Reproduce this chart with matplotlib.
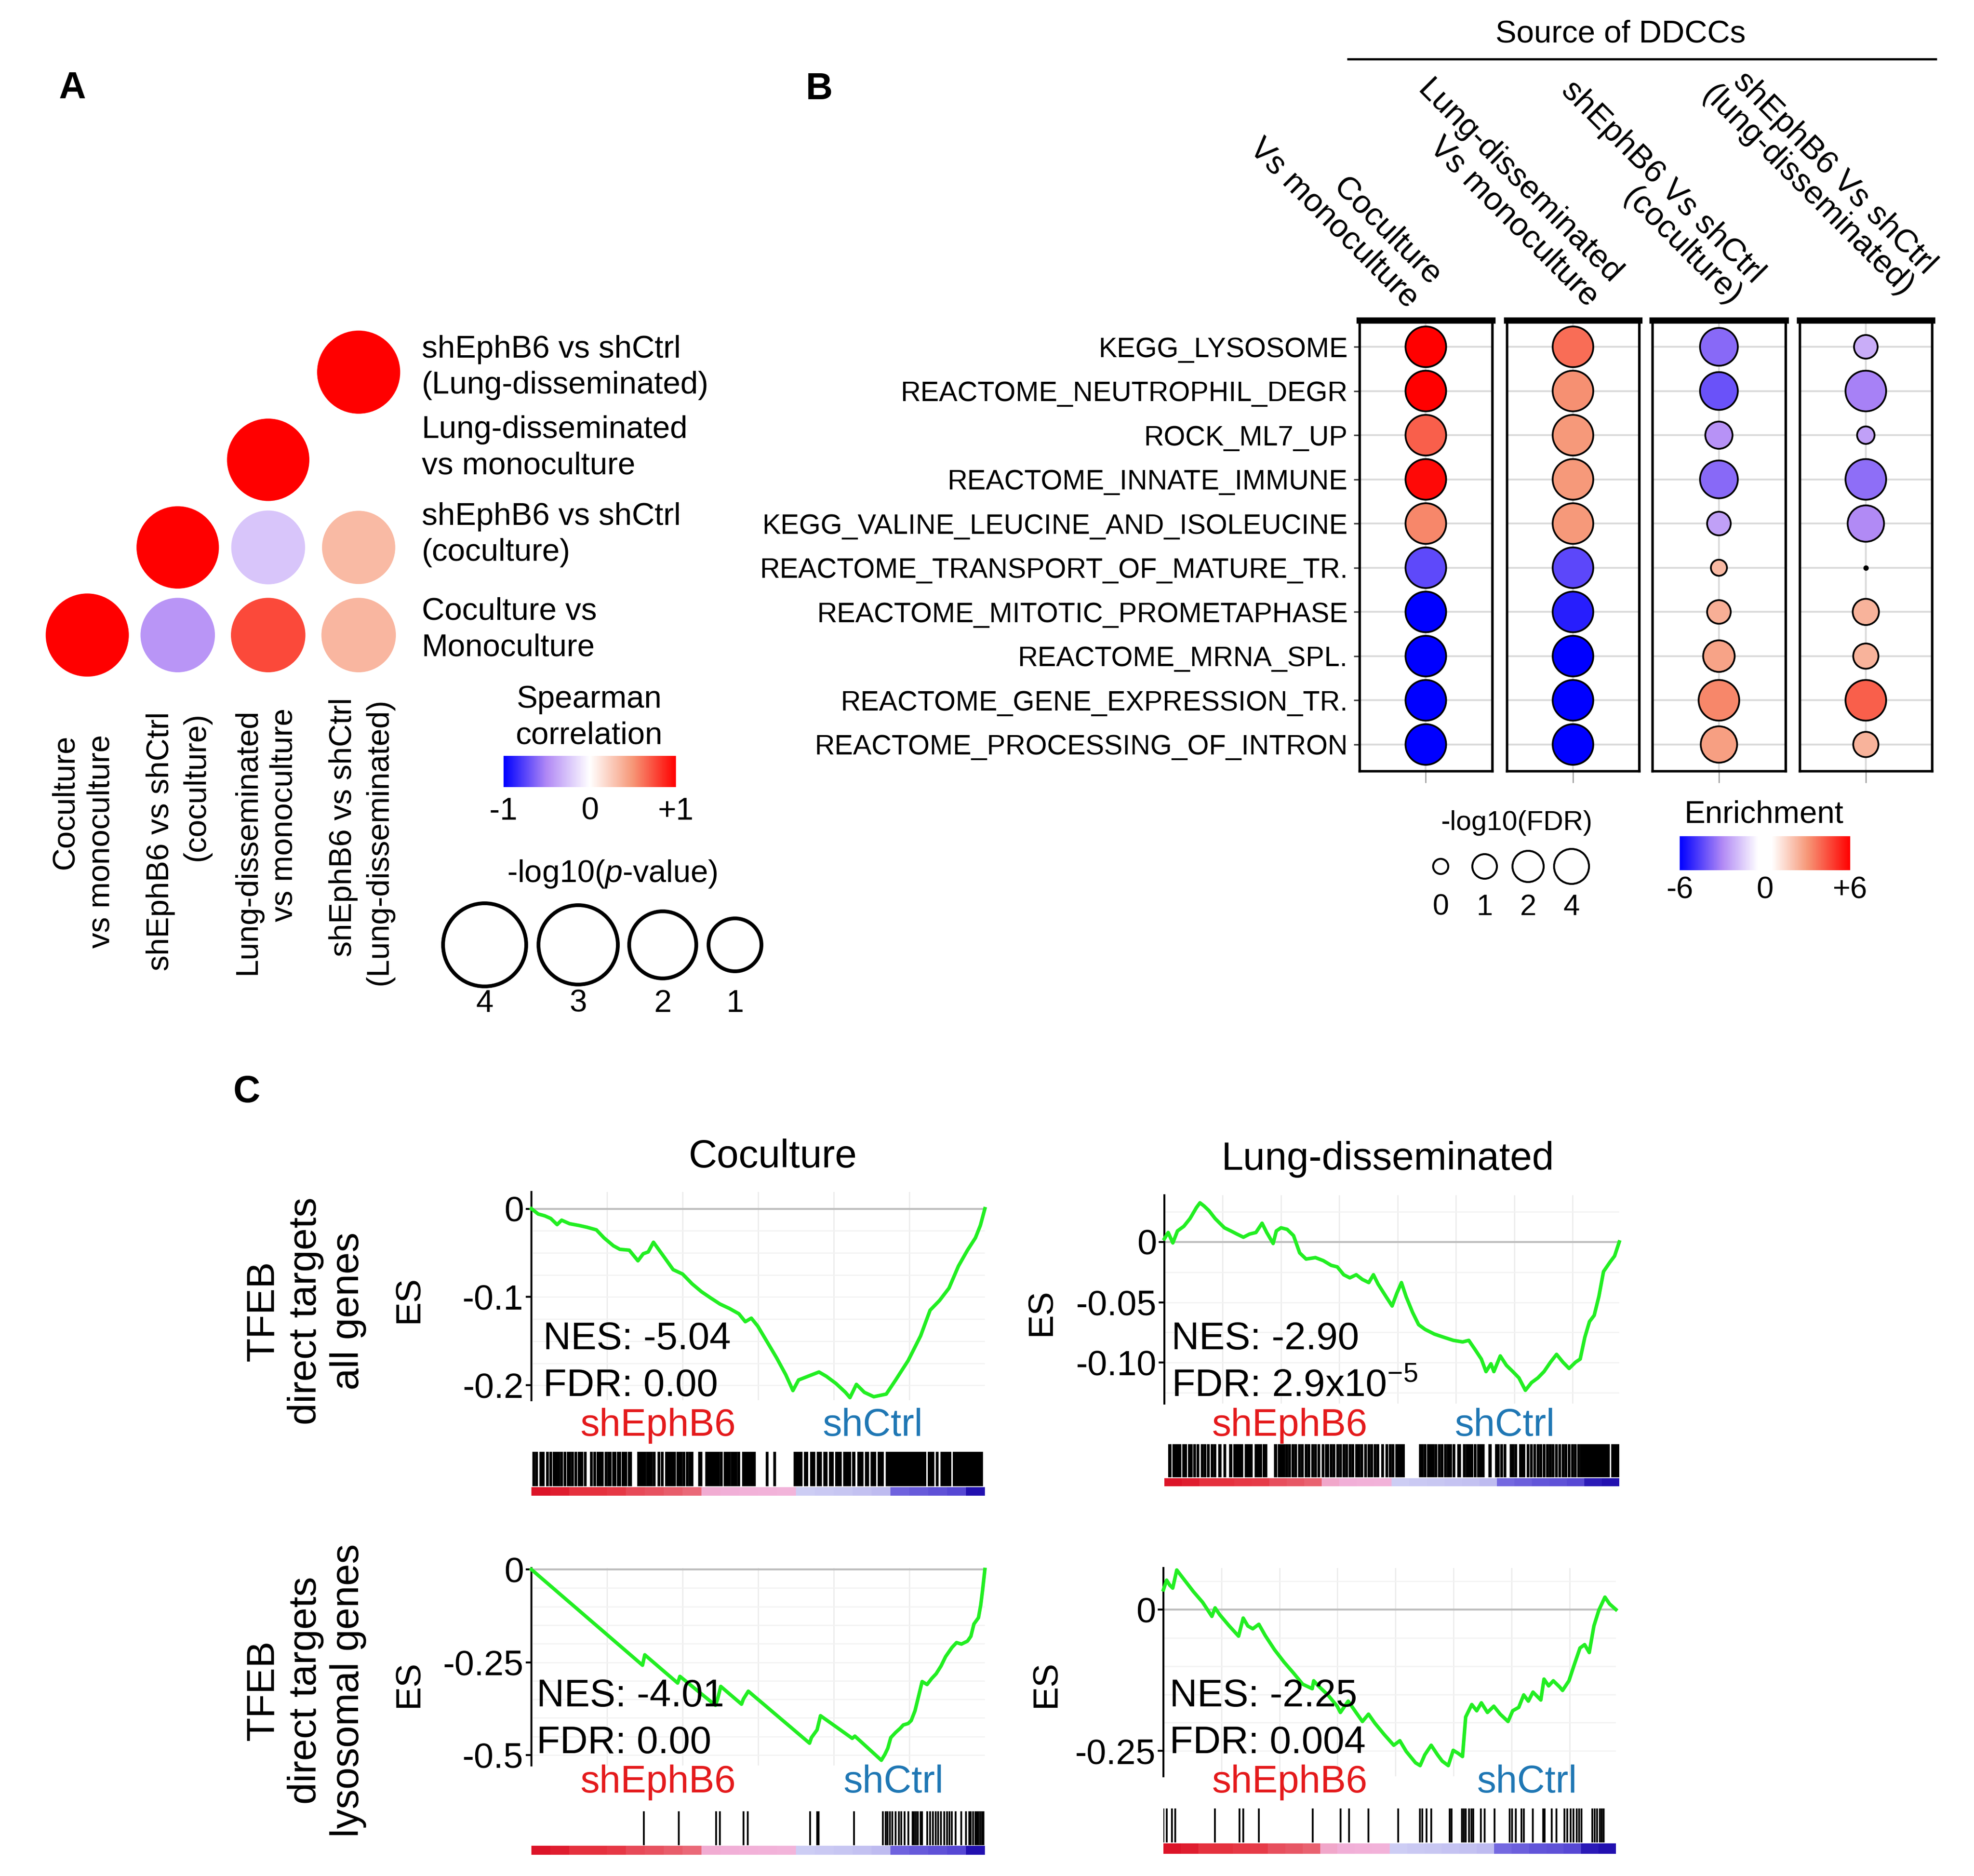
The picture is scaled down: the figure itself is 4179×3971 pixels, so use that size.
import numpy as np
import matplotlib
matplotlib.use('Agg')
import matplotlib.pyplot as plt
from matplotlib.colors import LinearSegmentedColormap, Normalize
from matplotlib.cm import ScalarMappable
from matplotlib.lines import Line2D

plt.rcParams['font.family'] = ['Liberation Sans', 'DejaVu Sans']
plt.rcParams['mathtext.fontset'] = 'custom'
plt.rcParams['mathtext.rm'] = 'Liberation Sans'
plt.rcParams['mathtext.it'] = 'Liberation Sans:italic'
plt.rcParams['axes.unicode_minus'] = False

W, H, DPI = 4179, 3971, 300

# ---------------- data: panel A (Spearman correlation matrix) ----------------
a_col_labels = ['Coculture\nvs monoculture', 'shEphB6 vs shCtrl\n(coculture)',
                'Lung-disseminated\nvs monoculture', 'shEphB6 vs shCtrl\n(Lung-disseminated)']
a_row_labels = ['Coculture vs\nMonoculture', 'shEphB6 vs shCtrl\n(coculture)',
                'Lung-disseminated\nvs monoculture', 'shEphB6 vs shCtrl\n(Lung-disseminated)']
nan = np.nan
# rows: bottom -> top, cols: left -> right
spearman = np.array([[1.0, -0.45, 0.75, 0.35],
                     [nan, 1.0, -0.25, 0.33],
                     [nan, nan, 1.0, nan],
                     [nan, nan, nan, 1.0]])
logp = np.array([[4.0, 2.6, 2.6, 2.6],
                 [nan, 3.8, 2.55, 2.5],
                 [nan, nan, 3.8, nan],
                 [nan, nan, nan, 4.0]])
logp_breaks = [4, 3, 2, 1]

# ---------------- data: panel B (pathway enrichment) ----------------
pathways = ['KEGG_LYSOSOME', 'REACTOME_NEUTROPHIL_DEGR', 'ROCK_ML7_UP', 'REACTOME_INNATE_IMMUNE',
            'KEGG_VALINE_LEUCINE_AND_ISOLEUCINE', 'REACTOME_TRANSPORT_OF_MATURE_TR.',
            'REACTOME_MITOTIC_PROMETAPHASE', 'REACTOME_MRNA_SPL.', 'REACTOME_GENE_EXPRESSION_TR.',
            'REACTOME_PROCESSING_OF_INTRON']
b_col_labels = ['Coculture\nVs monoculture', 'Lung-disseminated\nVs monoculture',
                'shEphB6 Vs shCtrl\n(coculture)', 'shEphB6 Vs shCtrl\n(lung-disseminated)']
enr_cocult = [6.0, 6.0, 4.1, 5.8, 3.3, -4.4, -6.0, -6.0, -6.0, -6.0]
enr_lung = [3.8, 3.1, 2.95, 2.95, 2.95, -4.45, -5.3, -6.0, -6.0, -6.0]
enr_sh_cocult = [-3.66, -4.2, -2.77, -3.7, -2.5, 2.2, 2.4, 2.7, 3.3, 2.8]
enr_sh_lung = [-2.25, -3.15, -2.5, -3.57, -3.0, nan, 2.3, 2.3, 4.1, 2.3]
fdr_cocult = [6.0, 6.0, 6.0, 6.0, 6.0, 6.0, 6.0, 6.0, 6.0, 6.0]
fdr_lung = [6.0, 6.0, 6.0, 6.0, 6.0, 6.0, 6.0, 6.0, 6.0, 6.0]
fdr_sh_cocult = [5.0, 5.0, 1.4, 5.0, 0.9, 0.1, 0.9, 2.2, 6.0, 4.5]
fdr_sh_lung = [0.9, 6.0, 0.25, 6.0, 4.5, nan, 1.25, 1.1, 6.0, 1.1]
fdr_breaks = [0, 1, 2, 4]

# ---------------- data: panel C (GSEA running enrichment scores) ----------------
# rank positions in thousands of genes
cocult_all_rank = [0, 0.18, 0.35, 0.51, 0.68, 0.80, 1.01, 1.26, 1.47, 1.72, 1.92, 2.17, 2.34, 2.59, 2.82,
                   2.96, 3.09, 3.23, 3.50, 3.75, 4.00, 4.25, 4.50, 4.74, 4.99, 5.24, 5.49, 5.66, 5.82,
                   5.99, 6.24, 6.49, 6.73, 6.92, 7.07, 7.31, 7.61, 7.81, 8.06, 8.31, 8.43, 8.60, 8.81,
                   9.06, 9.39, 9.64, 9.97, 10.30, 10.55, 10.80, 11.05, 11.30, 11.54, 11.75, 11.88, 12.0]
cocult_all_es = [0, -0.006, -0.008, -0.011, -0.018, -0.013, -0.017, -0.019, -0.021, -0.024, -0.033,
                 -0.042, -0.046, -0.047, -0.059, -0.051, -0.049, -0.038, -0.054, -0.069, -0.074, -0.085,
                 -0.094, -0.101, -0.108, -0.113, -0.119, -0.128, -0.124, -0.133, -0.151, -0.169, -0.188,
                 -0.206, -0.194, -0.190, -0.185, -0.190, -0.198, -0.208, -0.214, -0.199, -0.208, -0.213,
                 -0.210, -0.194, -0.172, -0.144, -0.115, -0.104, -0.090, -0.065, -0.047, -0.033, -0.019, 0]
cocult_all_hits = [0.06, 0.14, 0.25, 0.31, 0.43, 0.51, 0.60, 0.66, 0.72, 0.80, 0.89, 0.97, 1.01, 1.09,
                   1.18, 1.26, 1.30, 1.34, 1.43, 1.59, 1.68, 1.76, 1.82, 1.88, 1.97, 2.05, 2.09, 2.17,
                   2.21, 2.30, 2.34, 2.42, 2.46, 2.50, 2.59, 2.63, 2.84, 2.88, 2.92, 2.96, 3.00, 3.07,
                   3.13, 3.17, 3.25, 3.38, 3.46, 3.58, 3.62, 3.67, 3.73, 3.79, 3.87, 3.91, 3.96, 4.04,
                   4.12, 4.20, 4.25, 4.45, 4.49, 4.64, 4.70, 4.76, 4.83, 4.89, 4.95, 5.03, 5.12, 5.17,
                   5.24, 5.31, 5.37, 5.41, 5.49, 5.61, 5.66, 5.72, 5.78, 5.84, 5.90, 6.24, 6.44]
cocult_all_runs = [(6.94, 7.17), (7.21, 7.33), (7.38, 7.51), (7.55, 7.69), (7.73, 7.84), (7.88, 8.00),
                   (8.04, 8.21), (8.25, 8.46), (8.49, 8.58), (8.62, 8.79), (8.83, 8.94), (8.98, 9.12),
                   (9.16, 9.33), (9.37, 10.45), (10.49, 10.66), (10.70, 10.78), (10.82, 11.11), (11.15, 11.95)]

lung_all_rank = [0, 0.13, 0.29, 0.45, 0.67, 0.88, 1.10, 1.22, 1.36, 1.53, 1.74, 1.90, 2.06, 2.28, 2.49,
                 2.71, 2.92, 3.14, 3.35, 3.51, 3.73, 3.84, 4.00, 4.21, 4.43, 4.64, 4.86, 5.18, 5.45,
                 5.72, 5.93, 6.15, 6.36, 6.58, 6.79, 7.01, 7.17, 7.33, 7.60, 7.81, 7.97, 8.13, 8.29,
                 8.51, 8.72, 8.94, 9.26, 9.58, 9.91, 10.23, 10.44, 10.66, 10.87, 11.03, 11.20, 11.30,
                 11.52, 11.73, 11.95, 12.16, 12.38, 12.59, 12.81, 13.02, 13.24, 13.45, 13.67, 13.88,
                 14.10, 14.26, 14.42, 14.58, 14.74, 14.90, 15.06, 15.28, 15.44, 15.60]
lung_all_es = [0.0026, 0.0078, -0.0008, 0.0091, 0.0130, 0.0194, 0.0285, 0.0324, 0.0298, 0.0259,
               0.0194, 0.0155, 0.0117, 0.0091, 0.0065, 0.0039, 0.0065, 0.0078, 0.0155, 0.0078,
               -0.0013, 0.0091, 0.0117, 0.0104, 0.0052, -0.0091, -0.0142, -0.0130, -0.0155, -0.0194,
               -0.0207, -0.0272, -0.0298, -0.0272, -0.0311, -0.0337, -0.0272, -0.0350, -0.0453, -0.0531,
               -0.0427, -0.0337, -0.0453, -0.0583, -0.0686, -0.0725, -0.0764, -0.0790, -0.0816, -0.0829,
               -0.0816, -0.0894, -0.0971, -0.1075, -0.1010, -0.1075, -0.0945, -0.1023, -0.1075, -0.1127,
               -0.1230, -0.1166, -0.1127, -0.1075, -0.0997, -0.0932, -0.0997, -0.1049, -0.0997, -0.0971,
               -0.0790, -0.0660, -0.0609, -0.0453, -0.0246, -0.0168, -0.0117, 0]
lung_all_hits = [0.32, 0.40, 0.47, 0.54, 0.86, 0.93, 1.04, 1.29, 1.40, 1.50, 1.63, 1.74, 2.08, 2.41,
                 2.49, 2.58, 2.65, 3.14, 3.22, 3.30, 3.41, 3.48, 3.94, 4.02, 4.10, 4.19, 4.30, 4.41,
                 4.51, 4.64, 4.73, 4.86, 4.96, 5.09, 5.18, 5.29, 5.45, 5.55, 5.61, 5.72, 5.82, 5.95,
                 6.04, 6.15, 6.25, 6.36, 6.47, 6.60, 6.68, 6.77, 6.90, 7.01, 7.11, 7.22, 7.33, 7.49,
                 7.63, 7.74, 7.84, 8.78, 8.85, 8.94, 9.05, 9.13, 9.21, 9.32, 9.42, 9.53, 9.64, 9.74,
                 9.82, 9.93, 10.28, 10.39, 10.46, 10.55, 10.66, 10.77, 10.85, 10.93, 11.39, 11.46,
                 11.57, 11.68, 11.89, 11.95, 12.05, 12.48, 12.59, 12.70, 12.81, 12.91, 13.02, 13.13,
                 13.24, 13.34, 13.45, 13.56, 13.67, 13.77, 13.88, 13.99, 14.10, 14.20]
lung_all_runs = [(0.13, 0.24), (0.61, 0.77), (1.10, 1.20), (1.85, 1.96), (2.22, 2.33), (2.76, 3.03),
                 (3.76, 3.87), (7.92, 8.24), (10.04, 10.17), (11.11, 11.22), (12.16, 12.38),
                 (14.26, 15.28), (15.33, 15.60)]

cocult_lyso_rank = [0, 2.94, 3.00, 3.87, 3.93, 4.87, 4.93, 5.01, 5.56, 5.61, 5.74, 7.36, 7.41, 7.56,
                    7.65, 8.49, 8.56, 9.26, 9.35, 9.43, 9.51, 9.64, 9.76, 9.84, 9.97, 10.05, 10.15,
                    10.23, 10.34, 10.47, 10.59, 10.71, 10.84, 10.96, 11.13, 11.25, 11.38, 11.54,
                    11.63, 11.71, 11.83, 11.89, 11.94, 12.0]
cocult_lyso_es = [0, -0.258, -0.230, -0.306, -0.288, -0.366, -0.348, -0.315, -0.363, -0.349, -0.328,
                  -0.468, -0.453, -0.432, -0.394, -0.455, -0.449, -0.514, -0.499, -0.482, -0.453,
                  -0.439, -0.428, -0.419, -0.415, -0.407, -0.381, -0.348, -0.302, -0.310, -0.294,
                  -0.281, -0.260, -0.235, -0.210, -0.197, -0.201, -0.193, -0.180, -0.147, -0.130,
                  -0.096, -0.055, 0]
cocult_lyso_hits = [2.98, 3.90, 4.89, 4.99, 5.61, 5.72, 7.38, 7.56, 7.60, 8.54, 9.30, 9.37, 9.43, 9.49,
                    9.55, 9.64, 9.72, 9.79, 9.87, 9.97, 10.09, 10.13, 10.18, 10.23, 10.30, 10.34, 10.47,
                    10.55, 10.63, 10.70, 10.76, 10.84, 10.92, 11.00, 11.06, 11.13, 11.23, 11.38, 11.50,
                    11.59, 11.63, 11.69, 11.75, 11.79, 11.83, 11.88, 11.92, 11.96]

lung_lyso_rank = [0, 0.11, 0.22, 0.32, 0.46, 0.70, 1.03, 1.35, 1.67, 1.78, 1.94, 2.27, 2.59, 2.75, 2.91,
                  3.08, 3.29, 3.51, 3.83, 4.16, 4.48, 4.80, 5.13, 5.18, 5.34, 5.67, 5.99, 6.10, 6.37,
                  6.64, 6.86, 7.07, 7.29, 7.61, 7.94, 8.15, 8.37, 8.69, 8.85, 9.01, 9.23, 9.45, 9.61,
                  9.82, 9.99, 10.15, 10.31, 10.42, 10.63, 10.80, 10.96, 11.17, 11.39, 11.61, 11.88,
                  12.04, 12.25, 12.42, 12.58, 12.74, 13.01, 13.12, 13.28, 13.44, 13.66, 13.76, 13.98,
                  14.14, 14.36, 14.52, 14.68, 14.84, 15.01, 15.22, 15.38, 15.60]
lung_lyso_es = [0.035, 0.052, 0.043, 0.038, 0.070, 0.054, 0.032, 0.013, -0.012, 0.003, -0.009, -0.029,
                -0.047, -0.015, -0.029, -0.034, -0.026, -0.046, -0.071, -0.093, -0.112, -0.132, -0.140,
                -0.126, -0.135, -0.151, -0.171, -0.182, -0.162, -0.182, -0.198, -0.185, -0.201, -0.221,
                -0.240, -0.232, -0.251, -0.271, -0.276, -0.257, -0.240, -0.257, -0.268, -0.276, -0.249,
                -0.254, -0.260, -0.190, -0.168, -0.179, -0.165, -0.182, -0.171, -0.185, -0.198, -0.179,
                -0.173, -0.151, -0.162, -0.146, -0.160, -0.123, -0.135, -0.126, -0.137, -0.143, -0.126,
                -0.101, -0.068, -0.062, -0.076, -0.029, -0.001, 0.022, 0.010, 0]
lung_lyso_hits = [0.00, 0.11, 0.29, 0.40, 1.78, 2.62, 2.75, 3.29, 5.15, 6.10, 6.40, 7.07, 8.10, 8.85,
                  8.93, 9.07, 9.23, 9.86, 9.93, 10.29, 10.36, 10.42, 10.53, 10.61, 10.69, 10.94, 11.07,
                  11.41, 11.93, 12.02, 12.15, 12.34, 12.42, 12.74, 13.10, 13.14, 13.39, 13.55, 13.82,
                  13.93, 14.03, 14.14, 14.25, 14.33, 14.41, 14.79, 14.87, 14.95, 15.04, 15.11, 15.17]

# ranked-list metric strips (binned, scaled -1..1)
metric_cocult = [1.0, 0.95, 0.85, 0.85, 0.82, 0.72, 0.68, 0.64, 0.6, 0.32, 0.3, 0.28, 0.26, 0.24,
                 -0.2, -0.22, -0.25, -0.28, -0.32, -0.62, -0.66, -0.7, -0.75, -1.0]
metric_lung = [1.0, 0.95, 0.85, 0.85, 0.82, 0.8, 0.7, 0.66, 0.62, 0.34, 0.3, 0.28, 0.26,
               -0.2, -0.22, -0.24, -0.26, -0.28, -0.32, -0.6, -0.64, -0.68, -0.7, -0.74, -0.95, -1.0]
n_cocult = 12.0
n_lung = 15.6

# ---------------- colours ----------------
cmap_a = LinearSegmentedColormap.from_list('corr', [(0, '#0000FF'), (0.25, '#B189F5'), (0.5, '#FFFFFF'),
                                                    (0.75, '#F69777'), (1, '#FF0000')])
cmap_b = LinearSegmentedColormap.from_list('enr', [(0, '#0000FF'), (0.25, '#B189F5'), (0.46, '#FFFFFF'),
                                                   (0.54, '#FFFFFF'), (0.75, '#F69777'), (1, '#FF0000')])
cmap_strip = LinearSegmentedColormap.from_list('strip', [
    (0, '#2210B0'), (0.1, '#4C3CD0'), (0.2, '#7468E0'), (0.3, '#B4B0EE'), (0.4, '#CDCDF4'),
    (0.4995, '#D6D4F6'), (0.5005, '#F5C4E4'), (0.65, '#F2B0D8'), (0.75, '#EE8898'),
    (0.825, '#E85A68'), (0.925, '#E6323F'), (1, '#DC1428')])
GREEN = '#22EE22'

fig = plt.figure(figsize=(W / DPI, H / DPI), dpi=DPI)


def rect(x0, y0, x1, y1):
    return [x0 / W, 1 - y1 / H, (x1 - x0) / W, (y1 - y0) / H]


def P(x, y):
    return x / W, 1 - y / H


def area(r_px):
    return (2 * np.asarray(r_px) * 72 / DPI) ** 2


def size_a(v):
    return area(np.interp(v, [1, 2, 3, 4], [56, 71, 84, 88]))


def size_b(v):
    return area(np.interp(v, [0, 1, 2, 4, 6], [16, 26, 33, 37, 43]))


# ======================= Panel A =======================
fig.text(*P(153, 188), 'A', fontsize=19, fontweight='bold', ha='center', va='center')
ax = fig.add_axes(rect(89, 695, 855, 1437))
ax.set_xlim(-0.5, 3.5)
ax.set_ylim(-0.5, 3.5)
ax.axis('off')
cc, rr = np.meshgrid(np.arange(4), np.arange(4))
ok = ~np.isnan(spearman)
ax.scatter(cc[ok], rr[ok], s=size_a(logp[ok]), c=spearman[ok], cmap=cmap_a, vmin=-1, vmax=1,
           linewidths=0)

for lab, y in zip(a_row_labels, [1333, 1132, 948, 778]):
    fig.text(*P(893, y), lab, fontsize=16, ha='left', va='center', linespacing=1.3)
for lab, x in zip(a_col_labels, [176, 378, 563, 765]):
    fig.text(*P(x, 1781), lab, fontsize=16, rotation=90, ha='center', va='center',
             multialignment='right', linespacing=1.3)

fig.text(*P(1247, 1519), 'Spearman\ncorrelation', fontsize=16, ha='center', va='center', linespacing=1.3)
cax = fig.add_axes(rect(1066, 1600, 1431, 1666))
cb = fig.colorbar(ScalarMappable(Normalize(-1, 1), cmap_a), cax=cax, orientation='horizontal')
cb.outline.set_visible(False)
cb.set_ticks([-1, 0, 1], labels=['-1', '0', '+1'])
cax.tick_params(length=0, labelsize=16, pad=5)

fig.text(*P(1296, 1850), r'-log10($\mathit{p}$-value)', fontsize=16, ha='center', va='center')
lax = fig.add_axes(rect(900, 1890, 1640, 2160))
lax.set_xlim(900, 1640)
lax.set_ylim(2160, 1890)
lax.axis('off')
lx = [1026, 1224, 1403, 1556]
lax.scatter(lx, [2000] * 4, s=size_a(logp_breaks), facecolors='none', edgecolors='black', linewidths=1.9)
for x, v in zip(lx, logp_breaks):
    lax.text(x, 2125, str(v), fontsize=16, ha='center', va='center')

# ======================= Panel B =======================
fig.text(*P(1734, 190), 'B', fontsize=19, fontweight='bold', ha='center', va='center')
fig.text(*P(3431, 72), 'Source of DDCCs', fontsize=16, ha='center', va='center')
fig.add_artist(Line2D([2854 / W, 4098 / W], [1 - 125 / H] * 2, color='black', lw=1.1))

b_enr = [enr_cocult, enr_lung, enr_sh_cocult, enr_sh_lung]
b_fdr = [fdr_cocult, fdr_lung, fdr_sh_cocult, fdr_sh_lung]
b_boxes = [(2878, 3159), (3190, 3470), (3498, 3780), (3810, 4090)]
header_anchor = [(3017, 618), (3398, 615), (3700, 613), (4064, 594)]
rows = np.arange(1, len(pathways) + 1)
for i, (x0, x1) in enumerate(b_boxes):
    ax = fig.add_axes(rect(x0, 678, x1, 1632))
    ax.set_xlim(0.4, 1.6)
    ax.set_ylim(10.6, 0.4)
    ax.set_axisbelow(True)
    ax.grid(True, color='#DADADA', lw=0.9)
    enr = np.array(b_enr[i], dtype=float)
    fdr = np.array(b_fdr[i], dtype=float)
    good = ~np.isnan(fdr)
    ax.scatter(np.ones(good.sum()), rows[good], s=size_b(fdr[good]), c=enr[good], cmap=cmap_b,
               vmin=-6, vmax=6, edgecolors='black', linewidths=0.9, zorder=3)
    if (~good).any():
        ax.scatter(np.ones((~good).sum()), rows[~good], s=3, color='black', zorder=3)
    ax.set_xticks([1])
    ax.set_xticklabels([])
    ax.tick_params(axis='x', length=6, width=0.6, color='#999999')
    ax.set_yticks(rows)
    if i == 0:
        ax.set_yticklabels(pathways)
        ax.tick_params(axis='y', labelsize=14.1, length=3, width=0.8, color='#444444', pad=3)
    else:
        ax.set_yticklabels([])
        ax.tick_params(axis='y', length=0)
    for s in ax.spines.values():
        s.set_linewidth(1.3)
    ax.spines['top'].set_linewidth(3.2)
    fig.text(*P(*header_anchor[i]), b_col_labels[i], fontsize=16.5, rotation=-45, rotation_mode='anchor',
             ha='right', va='center', multialignment='right', linespacing=1.07)

fig.text(*P(3211, 1742), '-log10(FDR)', fontsize=14, ha='center', va='center')
lax = fig.add_axes(rect(3000, 1780, 3380, 1960))
lax.set_xlim(3000, 3380)
lax.set_ylim(1960, 1780)
lax.axis('off')
lx = [3050, 3143, 3235, 3327]
lax.scatter(lx, [1834] * 4, s=size_b(fdr_breaks), facecolors='none', edgecolors='black', linewidths=1.0)
for x, v in zip(lx, fdr_breaks):
    lax.text(x, 1920, str(v), fontsize=15, ha='center', va='center')

fig.text(*P(3734, 1725), 'Enrichment', fontsize=16, ha='center', va='center')
cax = fig.add_axes(rect(3556, 1770, 3917, 1842))
cb = fig.colorbar(ScalarMappable(Normalize(-6, 6), cmap_b), cax=cax, orientation='horizontal')
cb.outline.set_visible(False)
cb.set_ticks([-6, 0, 6], labels=['-6', '0', '+6'])
cax.tick_params(length=0, labelsize=15.5, pad=3)

# ======================= Panel C =======================
fig.text(*P(522, 2312), 'C', fontsize=19, fontweight='bold', ha='center', va='center')
fig.text(*P(1636, 2449), 'Coculture', fontsize=20, ha='center', va='center')
fig.text(*P(2937, 2454), 'Lung-disseminated', fontsize=20, ha='center', va='center')
fig.text(*P(647, 2775), 'TFEB\ndirect targets\nall genes', fontsize=20, rotation=90,
         ha='center', va='center', multialignment='center')
fig.text(*P(647, 3578), 'TFEB\ndirect targets\nlysosomal genes', fontsize=20, rotation=90,
         ha='center', va='center', multialignment='center')


def gsea_panel(main, bar, strip_box, rank, es, hits, runs, metric, n, ylim, yt, ytl, hstep, hit_lw,
               es_pos, nes, fdr, nes_pos, lab_pos):
    ax = fig.add_axes(rect(*main))
    for g in np.arange(2, n, 2):
        ax.axvline(g, color='#EBEBEB', lw=0.6, zorder=0)
    for h in np.arange(np.ceil(ylim[0] / hstep) * hstep, ylim[1], hstep):
        ax.axhline(h, color='#F2F2F2', lw=0.6, zorder=0)
    ax.axhline(0, color='#BEBEBE', lw=1.0, zorder=1)
    ax.plot(rank, es, color=GREEN, lw=1.8, zorder=3, clip_on=False)
    ax.set_xlim(0, n)
    ax.set_ylim(*ylim)
    for s in ['top', 'right', 'bottom']:
        ax.spines[s].set_visible(False)
    ax.spines['left'].set_linewidth(1.0)
    ax.set_xticks([])
    ax.set_yticks(yt)
    ax.set_yticklabels(ytl)
    ax.tick_params(axis='y', labelsize=18, length=3, width=1, pad=1)

    bx = fig.add_axes(rect(*bar))
    bx.vlines(hits, 0, 1, color='black', lw=hit_lw)
    for a, b in runs:
        bx.axvspan(a, b, color='black', lw=0)
    bx.set_xlim(0, n)
    bx.set_ylim(0, 1)
    bx.axis('off')

    sx = fig.add_axes(rect(*strip_box))
    sx.imshow(np.array(metric)[None, :], aspect='auto', cmap=cmap_strip, vmin=-1, vmax=1,
              extent=(0, n, 0, 1), interpolation='nearest')
    sx.axis('off')

    fig.text(*P(*es_pos), 'ES', fontsize=18, rotation=90, ha='center', va='center')
    fig.text(*P(nes_pos[0], nes_pos[1]), nes, fontsize=19.5, ha='left', va='center')
    fig.text(*P(nes_pos[0], nes_pos[1] + 99), fdr, fontsize=19.5, ha='left', va='center')
    fig.text(*P(*lab_pos[0]), 'shEphB6', fontsize=19.5, color='#E41A1C', ha='center', va='center')
    fig.text(*P(*lab_pos[1]), 'shCtrl', fontsize=19.5, color='#1F77B4', ha='center', va='center')


gsea_panel((1125, 2523, 2085, 2964), (1125, 3073, 2085, 3146), (1125, 3148, 2085, 3166),
           cocult_all_rank, cocult_all_es, cocult_all_hits, cocult_all_runs, metric_cocult, n_cocult,
           (-0.217, 0.019), [0, -0.1, -0.2], ['0', '-0.1', '-0.2'], 0.025, 1.4,
           (865, 2750), 'NES: -5.04', 'FDR: 0.00', (1150, 2835), [(1393, 3018), (1848, 3018)])
gsea_panel((2465, 2530, 3428, 2971), (2465, 3057, 3428, 3127), (2465, 3129, 3428, 3146),
           lung_all_rank, lung_all_es, lung_all_hits, lung_all_runs, metric_lung, n_lung,
           (-0.134, 0.0387), [0, -0.05, -0.10], ['0', '-0.05', '-0.10'], 0.025, 1.4,
           (2204, 2777), 'NES: -2.90', r'FDR: 2.9x10$^{\mathrm{-5}}$', (2480, 2835),
           [(2730, 3018), (3186, 3018)])
gsea_panel((1125, 3319, 2085, 3737), (1125, 3834, 2085, 3906), (1125, 3907, 2085, 3926),
           cocult_lyso_rank, cocult_lyso_es, cocult_lyso_hits, [], metric_cocult, n_cocult,
           (-0.528, 0.004), [0, -0.25, -0.5], ['0', '-0.25', '-0.5'], 0.05, 0.9,
           (865, 3564), 'NES: -4.01', 'FDR: 0.00', (1136, 3591), [(1393, 3773), (1892, 3773)])
gsea_panel((2463, 3319, 3421, 3760), (2463, 3828, 3421, 3900), (2463, 3902, 3421, 3924),
           lung_lyso_rank, lung_lyso_es, lung_lyso_hits, [], metric_lung, n_lung,
           (-0.295, 0.0736), [0, -0.25], ['0', '-0.25'], 0.05, 0.9,
           (2214, 3564), 'NES: -2.25', 'FDR: 0.004', (2476, 3591), [(2730, 3773), (3233, 3773)])

fig.savefig('out.png', dpi=DPI, facecolor='white')
